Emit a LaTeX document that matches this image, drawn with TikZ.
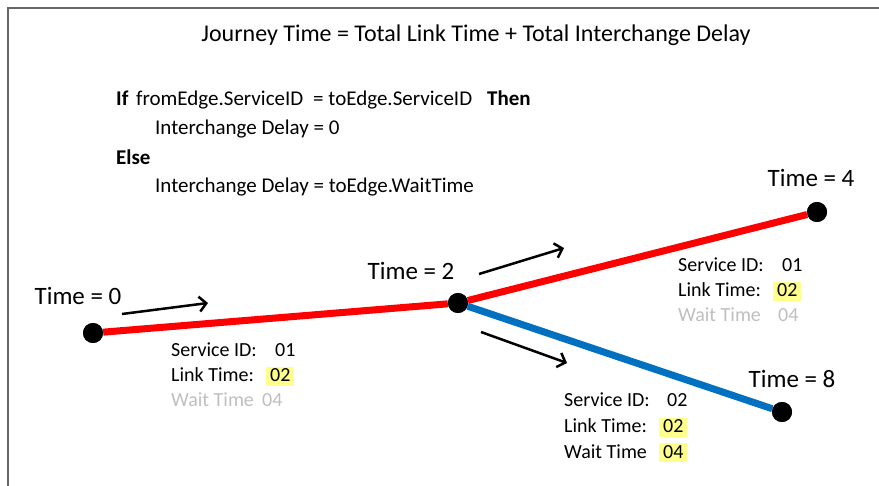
\documentclass[tikz,border=0pt]{standalone}
\usepackage{fontspec}
\setmainfont{Carlito}
\usetikzlibrary{arrows.meta}

\definecolor{linkred}{HTML}{FF0000}
\definecolor{linkblue}{HTML}{0070C0}
\definecolor{hlyellow}{HTML}{FFFF8C}
\definecolor{faded}{HTML}{BFBFBF}
\definecolor{framegray}{HTML}{666666}

\begin{document}
\begin{tikzpicture}[x=1pt,y=-1pt,
  txt/.style={anchor=base west,inner sep=0pt,font=\fontsize{20}{24}\selectfont},
  fadedtxt/.style={txt,text=faded},
  hl/.style={txt,fill=hlyellow,inner xsep=4pt,inner ysep=0pt,text height=14.5pt,text depth=4pt},
  rule/.style={anchor=base west,inner sep=0pt,font=\fontsize{21}{25}\selectfont},
  timelbl/.style={anchor=base,inner sep=0pt,font=\fontsize{25}{30}\selectfont},
  stop/.style={circle,fill=black,minimum size=20pt,inner sep=0pt},
  link/.style={line width=7pt},
  dirarrow/.style={line width=2.5pt,-{Straight Barb[length=7pt,width=15pt]}}
]
\useasboundingbox (0,0) rectangle (879,486);

% frame
\draw[framegray,line width=2pt] (8,486) -- (8,8) -- (879,8);

% formula
\node[anchor=base,inner sep=0pt,font=\fontsize{24}{28}\selectfont] (title) at (476,42)
  {Journey Time = Total Link Time + Total Interchange Delay};

% rule
\node[rule] (if) at (116,106) {\textbf{If}};
\node[rule] (from) at (136,106) {fromEdge.ServiceID};
\node[rule] (eq) at (313,106) {= toEdge.ServiceID};
\node[rule] (then) at (487,106) {\textbf{Then}};
\node[rule] (same) at (155,135) {Interchange Delay = 0};
\node[rule] (else) at (116,165) {\textbf{Else}};
\node[rule] (diff) at (155,193) {Interchange Delay = toEdge.WaitTime};

% stops
\node[stop] (t0) at (93,333) {};
\node[stop] (t2) at (458,303) {};
\node[stop] (t4) at (817,212) {};
\node[stop] (t8) at (782,412) {};

% links
\draw[link,linkred] (t0) -- (t2);
\draw[link,linkred] (t2) -- (t4);
\draw[link,linkblue] (t2) -- (t8);
\node[stop] at (t0) {};
\node[stop] at (t2) {};
\node[stop] at (t4) {};
\node[stop] at (t8) {};

% stop labels
\node[timelbl] (l0) at (78,305) {Time = 0};
\node[timelbl] (l2) at (411,280) {Time = 2};
\node[timelbl] (l4) at (811,187) {Time = 4};
\node[timelbl] (l8) at (792,388) {Time = 8};

% direction arrows
\coordinate (a1s) at (122,314); \coordinate (a1e) at (208,303);
\coordinate (a2s) at (479,274); \coordinate (a2e) at (564,248);
\coordinate (a3s) at (481,332); \coordinate (a3e) at (567,363);
\draw[dirarrow] (a1s) -- (a1e);
\draw[dirarrow] (a2s) -- (a2e);
\draw[dirarrow] (a3s) -- (a3e);

% edge attributes: first link
\node[txt] (s1) at (171,357) {Service ID:};
\node[txt] (s1v) at (275,357) {01};
\node[txt] (k1) at (171,382) {Link Time:};
\node[hl] (k1v) at (266,382) {02};
\node[fadedtxt] (w1) at (171,407) {Wait Time};
\node[fadedtxt] (w1v) at (262,407) {04};

% edge attributes: red continuation
\node[txt] (s2) at (678,272) {Service ID:};
\node[txt] (s2v) at (782,272) {01};
\node[txt] (k2) at (678,297) {Link Time:};
\node[hl] (k2v) at (773,297) {02};
\node[fadedtxt] (w2) at (678,322) {Wait Time};
\node[fadedtxt] (w2v) at (778,322) {04};

% edge attributes: blue branch
\node[txt] (s3) at (564,407) {Service ID:};
\node[txt] (s3v) at (667,407) {02};
\node[txt] (k3) at (564,433) {Link Time:};
\node[hl] (k3v) at (659,433) {02};
\node[txt] (w3) at (564,458) {Wait Time};
\node[hl] (w3v) at (659,458) {04};
\end{tikzpicture}
\end{document}
